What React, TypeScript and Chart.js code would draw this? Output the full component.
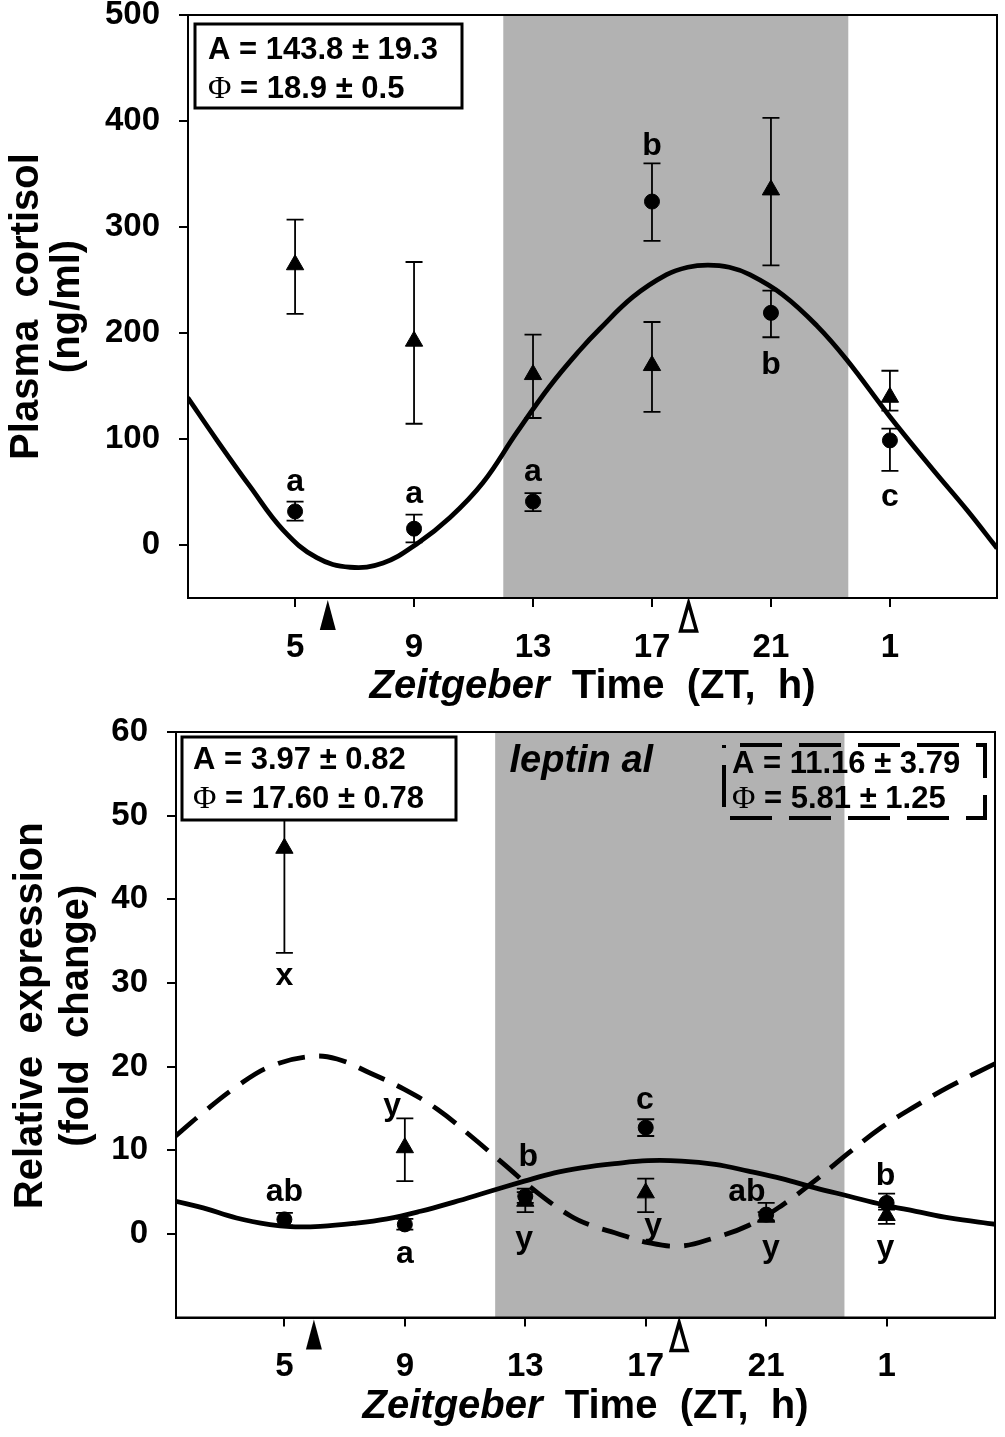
import React, { useEffect, useRef } from 'react';
import { Chart, registerables } from 'chart.js';

Chart.register(...registerables);

const SANS = "'Liberation Sans', Arial, Helvetica, sans-serif";
const SERIF = "'Liberation Serif', 'Times New Roman', serif";

// Zeitgeber time axis, shared by both panels
const ZT_MIN = 1.4;
const ZT_MAX = 28.6;
const ZT_TICKS = [5, 9, 13, 17, 21, 25];
const ZT_TICK_LABELS = ['5', '9', '13', '17', '21', '1'];
const SAMPLE_ZT = [5, 9, 13, 17, 21, 25];
const DARK_START = 12;
const DARK_END = 23.6;

// Panel 1: plasma cortisol (ng/ml)
const CORT_Y_TICKS = [0, 100, 200, 300, 400, 500];
const cortCircle = [31.7, 15.4, 41, 324, 219, 98.7];
const cortCircleLo = [23, 2.5, 32, 287, 196, 70];
const cortCircleHi = [41, 28.6, 49, 360, 240, 109.7];
const cortTriangle = [264.4, 192.3, 160.8, 169.3, 335, 139.4];
const cortTriangleLo = [218, 114.4, 119.8, 125.5, 263.8, 126.7];
const cortTriangleHi = [307, 267, 198.4, 210.4, 403, 164.4];
const cortFitZT = [1.39, 2.37, 3.49, 4.6, 5.73, 6.85, 7.96, 9.09, 10.21, 11.32, 12.45, 13.57, 14.58, 15.25, 16.36, 17.49, 18.2, 18.88, 19.6, 20.29, 21.4, 22.54, 23.54, 25.0, 26.45, 27.59, 28.6];
const cortFit = [139, 99, 55, 14, -12, -21, -17, 1, 26, 59, 106, 150, 184, 204, 234, 255, 262, 264, 262, 255, 236, 207, 175, 121, 71, 33, -3];
const cortLetters = ['a', 'a', 'a', 'b', 'b', 'c'];
const cortLetterZT = [5, 9, 13, 17, 21, 25];
const cortLetterY = [50.6, 39.6, 60, 368, 161, 36.4];
const cortStats = ['A = 143.8 ± 19.3', 'Φ = 18.9 ± 0.5'];
const cortPhaseFilled = 6.1;
const cortPhaseOpen = 18.23;

// Panel 2: leptin al relative expression (fold change)
const LEP_Y_TICKS = [0, 10, 20, 30, 40, 50, 60];
const lepCircle = [1.73, 1.13, 4.5, 12.7, 2.3, 3.7];
const lepCircleLo = [1.0, 0.5, 3.7, 11.7, 1.6, 2.9];
const lepCircleHi = [2.5, 1.8, 5.4, 13.7, 3.7, 4.8];
const lepTriangle = [46.1, 10.3, 3.9, 4.9, 2.0, 2.2];
const lepTriangleLo = [33.6, 6.3, 2.6, 2.6, 1.5, 1.2];
const lepTriangleHi = [58.6, 13.8, 5.0, 6.6, 2.6, 3.2];
const lepSolidZT = [1.39, 2.3, 3.41, 4.52, 5.19, 6.19, 7.3, 8.41, 9.52, 10.63, 11.75, 12.97, 13.97, 14.86, 15.97, 17.08, 18.19, 19.3, 20.41, 21.52, 22.63, 23.75, 24.86, 25.97, 27.08, 28.63];
const lepSolid = [3.9, 3.1, 1.9, 1.1, 0.86, 0.9, 1.25, 1.8, 2.7, 3.8, 5.0, 6.3, 7.3, 7.9, 8.4, 8.75, 8.7, 8.3, 7.5, 6.6, 5.5, 4.5, 3.5, 2.7, 1.9, 1.13];
const lepDashedZT = [1.39, 2.3, 3.41, 4.52, 5.86, 6.75, 7.86, 8.97, 10.08, 11.19, 12.3, 13.41, 14.52, 15.19, 15.97, 17.08, 18.19, 19.3, 20.41, 21.52, 22.63, 23.75, 24.86, 25.97, 27.08, 28.63];
const lepDashed = [11.7, 14.5, 17.6, 20.0, 21.2, 20.9, 19.2, 17.3, 14.9, 11.7, 8.3, 4.9, 2.1, 1.0, 0.14, -1.05, -1.45, -0.45, 1.0, 3.4, 6.4, 9.7, 12.8, 15.3, 17.6, 20.4];
const lepLetters = ['ab', 'x', 'y', 'a', 'b', 'y', 'c', 'y', 'ab', 'y', 'b', 'y'];
const lepLetterZT = [5, 5, 8.58, 9, 13.1, 12.96, 16.97, 17.25, 20.36, 21.16, 24.96, 24.96];
const lepLetterY = [3.9, 29.8, 14.2, -3.44, 8.1, -1.7, 14.9, -0.14, 3.9, -2.75, 5.9, -2.75];
const lepStatsSolid = ['A = 3.97 ± 0.82', 'Φ = 17.60 ± 0.78'];
const lepStatsDashed = ['A = 11.16 ± 3.79', 'Φ = 5.81 ± 1.25'];
const lepGene = 'leptin al';
const lepGeneZT = 14.86;
const lepGeneY = 55.2;
const lepPhaseFilled = 5.98;
const lepPhaseOpen = 18.11;

type Box = { dx: number; dy: number; w: number; h: number; tx: number; b1: number; b2: number; dashed: boolean; lines: string[] };

type PanelSpec = {
  top: number;
  height: number;
  padTop: number;
  padRight: number;
  yWidth: number;
  xHeight: number;
  yMin: number;
  yMax: number;
  yTicks: number[];
  yTitle: string[];
  yTitleX: number[];
  yTitleShift: number;
  circle: number[];
  circleLo: number[];
  circleHi: number[];
  tri: number[];
  triLo: number[];
  triHi: number[];
  fits: { zt: number[]; val: number[]; dash: number[] }[];
  letters: string[];
  letterZT: number[];
  letterY: number[];
  boxes: Box[];
  phaseFilled: number;
  phaseOpen: number;
  gene?: { text: string; zt: number; y: number };
};

const cortSpec: PanelSpec = {
  top: 0,
  height: 715,
  padTop: 15,
  padRight: 8,
  yWidth: 188,
  xHeight: 117,
  yMin: -50,
  yMax: 500,
  yTicks: CORT_Y_TICKS,
  yTitle: ['Plasma  cortisol', '(ng/ml)'],
  yTitleX: [38, 79],
  yTitleShift: 0,
  circle: cortCircle,
  circleLo: cortCircleLo,
  circleHi: cortCircleHi,
  tri: cortTriangle,
  triLo: cortTriangleLo,
  triHi: cortTriangleHi,
  fits: [{ zt: cortFitZT, val: cortFit, dash: [] }],
  letters: cortLetters,
  letterZT: cortLetterZT,
  letterY: cortLetterY,
  boxes: [{ dx: 7, dy: 9, w: 267, h: 84, tx: 20, b1: 44, b2: 83, dashed: false, lines: cortStats }],
  phaseFilled: cortPhaseFilled,
  phaseOpen: cortPhaseOpen,
};

const lepSpec: PanelSpec = {
  top: 715,
  height: 722,
  padTop: 17,
  padRight: 10,
  yWidth: 176,
  xHeight: 119.5,
  yMin: -10,
  yMax: 60,
  yTicks: LEP_Y_TICKS,
  yTitle: ['Relative  expression', '(fold  change)'],
  yTitleX: [42, 88],
  yTitleShift: -9,
  circle: lepCircle,
  circleLo: lepCircleLo,
  circleHi: lepCircleHi,
  tri: lepTriangle,
  triLo: lepTriangleLo,
  triHi: lepTriangleHi,
  fits: [
    { zt: lepSolidZT, val: lepSolid, dash: [] },
    { zt: lepDashedZT, val: lepDashed, dash: [28, 14] },
  ],
  letters: lepLetters,
  letterZT: lepLetterZT,
  letterY: lepLetterY,
  boxes: [
    { dx: 6, dy: 5, w: 274, h: 83, tx: 17, b1: 37, b2: 76, dashed: false, lines: lepStatsSolid },
    { dx: 548, dy: 13, w: 261, h: 73, tx: 556, b1: 41, b2: 76, dashed: true, lines: lepStatsDashed },
  ],
  phaseFilled: lepPhaseFilled,
  phaseOpen: lepPhaseOpen,
  gene: { text: lepGene, zt: lepGeneZT, y: lepGeneY },
};

function drawBox(ctx: CanvasRenderingContext2D, ca: any, box: Box) {
  const x = ca.left + box.dx;
  const y = ca.top + box.dy;
  ctx.save();
  if (!box.dashed) {
    ctx.fillStyle = '#fff';
    ctx.fillRect(x, y, box.w, box.h);
  }
  ctx.strokeStyle = '#000';
  ctx.lineWidth = box.dashed ? 4 : 3;
  if (box.dashed) {
    ctx.setLineDash([42, 17]);
    ctx.lineDashOffset = 43;
  }
  ctx.strokeRect(x, y, box.w, box.h);
  ctx.setLineDash([]);
  ctx.fillStyle = '#000';
  ctx.textAlign = 'left';
  ctx.textBaseline = 'alphabetic';
  box.lines.forEach((line, i) => {
    let tx = ca.left + box.tx;
    const ty = ca.top + (i === 0 ? box.b1 : box.b2);
    let rest = line;
    if (line.startsWith('Φ')) {
      ctx.font = `32px ${SERIF}`;
      ctx.fillText('Φ', tx, ty);
      tx += ctx.measureText('Φ').width;
      rest = line.slice(1);
    }
    ctx.font = `bold 31px ${SANS}`;
    ctx.fillText(rest, tx, ty);
  });
  ctx.restore();
}

function figurePlugin(spec: PanelSpec) {
  return {
    id: 'figure',
    beforeDatasetsDraw(chart: any) {
      const { ctx, chartArea: ca } = chart;
      const xs = chart.scales.x;
      const ys = chart.scales.y;
      ctx.save();
      // dark phase
      const x0 = xs.getPixelForValue(DARK_START);
      const x1 = xs.getPixelForValue(DARK_END);
      ctx.fillStyle = '#b2b2b2';
      ctx.fillRect(x0, ca.top, x1 - x0, ca.bottom - ca.top);
      // error bars
      ctx.strokeStyle = '#000';
      ctx.lineWidth = 1.8;
      const bars = (lo: number[], hi: number[]) => {
        SAMPLE_ZT.forEach((zt, i) => {
          const px = xs.getPixelForValue(zt);
          const a = ys.getPixelForValue(lo[i]);
          const b = ys.getPixelForValue(hi[i]);
          ctx.beginPath();
          ctx.moveTo(px, a);
          ctx.lineTo(px, b);
          ctx.moveTo(px - 8.5, a);
          ctx.lineTo(px + 8.5, a);
          ctx.moveTo(px - 8.5, b);
          ctx.lineTo(px + 8.5, b);
          ctx.stroke();
        });
      };
      bars(spec.triLo, spec.triHi);
      bars(spec.circleLo, spec.circleHi);
      ctx.restore();
    },
    afterDatasetsDraw(chart: any) {
      const { ctx, chartArea: ca } = chart;
      const xs = chart.scales.x;
      const ys = chart.scales.y;
      ctx.save();
      // frame
      ctx.strokeStyle = '#000';
      ctx.lineWidth = 2;
      ctx.strokeRect(ca.left, ca.top, ca.right - ca.left, ca.bottom - ca.top);

      // significance letters
      ctx.fillStyle = '#000';
      ctx.font = `bold 32px ${SANS}`;
      ctx.textAlign = 'center';
      ctx.textBaseline = 'alphabetic';
      spec.letters.forEach((t, i) => {
        ctx.fillText(t, xs.getPixelForValue(spec.letterZT[i]), ys.getPixelForValue(spec.letterY[i]));
      });

      if (spec.gene) {
        ctx.font = `italic bold 38px ${SANS}`;
        ctx.fillText(spec.gene.text, xs.getPixelForValue(spec.gene.zt), ys.getPixelForValue(spec.gene.y));
      }

      spec.boxes.forEach((b) => drawBox(ctx, ca, b));

      // acrophase markers under the axis
      const pf = xs.getPixelForValue(spec.phaseFilled);
      ctx.beginPath();
      ctx.moveTo(pf, ca.bottom + 2);
      ctx.lineTo(pf + 8, ca.bottom + 32);
      ctx.lineTo(pf - 8, ca.bottom + 32);
      ctx.closePath();
      ctx.fill();
      const po = xs.getPixelForValue(spec.phaseOpen);
      ctx.lineWidth = 3.5;
      ctx.lineJoin = 'miter';
      ctx.beginPath();
      ctx.moveTo(po, ca.bottom + 5);
      ctx.lineTo(po + 8, ca.bottom + 33);
      ctx.lineTo(po - 8, ca.bottom + 33);
      ctx.closePath();
      ctx.stroke();

      // x title with italic "Zeitgeber"
      const part1 = 'Zeitgeber';
      const part2 = '  Time  (ZT,  h)';
      ctx.font = `italic bold 40px ${SANS}`;
      const w1 = ctx.measureText(part1).width;
      ctx.font = `bold 40px ${SANS}`;
      const w2 = ctx.measureText(part2).width;
      const cx = (ca.left + ca.right) / 2;
      const by = ca.bottom + 100;
      ctx.textAlign = 'left';
      ctx.font = `italic bold 40px ${SANS}`;
      ctx.fillText(part1, cx - (w1 + w2) / 2, by);
      ctx.font = `bold 40px ${SANS}`;
      ctx.fillText(part2, cx - (w1 + w2) / 2 + w1, by);

      // y title, two rotated lines
      const cy = (ca.top + ca.bottom) / 2 + spec.yTitleShift;
      ctx.textAlign = 'center';
      spec.yTitle.forEach((line, i) => {
        ctx.save();
        ctx.translate(spec.yTitleX[i], cy);
        ctx.rotate(-Math.PI / 2);
        ctx.fillText(line, 0, 0);
        ctx.restore();
      });
      ctx.restore();
    },
  };
}

function buildConfig(spec: PanelSpec): any {
  const datasets: any[] = [
    {
      label: 'triangles',
      data: SAMPLE_ZT.map((zt, i) => ({ x: zt, y: spec.tri[i] })),
      pointStyle: 'triangle',
      pointRadius: 10,
      backgroundColor: '#000',
      borderColor: '#000',
      borderWidth: 1,
      showLine: false,
      order: 0,
    },
    {
      label: 'circles',
      data: SAMPLE_ZT.map((zt, i) => ({ x: zt, y: spec.circle[i] })),
      pointStyle: 'circle',
      pointRadius: 7.5,
      backgroundColor: '#000',
      borderColor: '#000',
      borderWidth: 1,
      showLine: false,
      order: 0,
    },
    ...spec.fits.map((f, k) => ({
      label: 'fit' + k,
      data: f.zt.map((zt, i) => ({ x: zt, y: f.val[i] })),
      showLine: true,
      pointRadius: 0,
      borderColor: '#000',
      borderWidth: 4.8,
      borderDash: f.dash,
      borderCapStyle: 'butt',
      tension: 0.4,
      fill: false,
      order: 1,
    })),
  ];

  return {
    type: 'scatter',
    data: { datasets },
    options: {
      responsive: false,
      animation: false,
      events: [],
      layout: { autoPadding: false, padding: { left: 0, top: spec.padTop, right: spec.padRight, bottom: 0 } },
      plugins: { legend: { display: false }, tooltip: { enabled: false } },
      scales: {
        x: {
          type: 'linear',
          min: ZT_MIN,
          max: ZT_MAX,
          afterBuildTicks: (s: any) => {
            s.ticks = ZT_TICKS.map((v) => ({ value: v }));
          },
          afterFit: (s: any) => {
            s.height = spec.xHeight;
            s.paddingLeft = 0;
            s.paddingRight = 0;
          },
          grid: { drawOnChartArea: false, drawTicks: true, tickLength: 9, color: '#000', lineWidth: 2 },
          border: { display: true, color: '#000', width: 2 },
          ticks: {
            autoSkip: false,
            maxRotation: 0,
            padding: 21,
            color: '#000',
            font: { family: SANS, size: 33, weight: 'bold' },
            callback: (_v: any, i: number) => ZT_TICK_LABELS[i],
          },
        },
        y: {
          type: 'linear',
          min: spec.yMin,
          max: spec.yMax,
          afterBuildTicks: (s: any) => {
            s.ticks = spec.yTicks.map((v) => ({ value: v }));
          },
          afterFit: (s: any) => {
            s.width = spec.yWidth;
            s.paddingTop = 0;
            s.paddingBottom = 0;
          },
          grid: { drawOnChartArea: false, drawTicks: true, tickLength: 9, color: '#000', lineWidth: 2 },
          border: { display: true, color: '#000', width: 2 },
          ticks: {
            padding: 19,
            color: '#000',
            font: { family: SANS, size: 33, weight: 'bold' },
            callback: (v: any) => String(v),
          },
        },
      },
    },
    plugins: [figurePlugin(spec)],
  };
}

function Panel({ spec }: { spec: PanelSpec }) {
  const canvasRef = useRef<HTMLCanvasElement>(null);

  useEffect(() => {
    if (!canvasRef.current) return;
    const chart = new Chart(canvasRef.current, buildConfig(spec));
    return () => {
      chart.destroy();
    };
  }, [spec]);

  return (
    <canvas
      ref={canvasRef}
      width={1005}
      height={spec.height}
      style={{ position: 'absolute', left: 0, top: spec.top, width: 1005, height: spec.height, display: 'block' }}
    />
  );
}

export default function App() {
  return (
    <div style={{ position: 'absolute', left: 0, top: 0, width: 1005, height: 1437, background: '#fff', overflow: 'hidden' }}>
      <Panel spec={cortSpec} />
      <Panel spec={lepSpec} />
    </div>
  );
}
